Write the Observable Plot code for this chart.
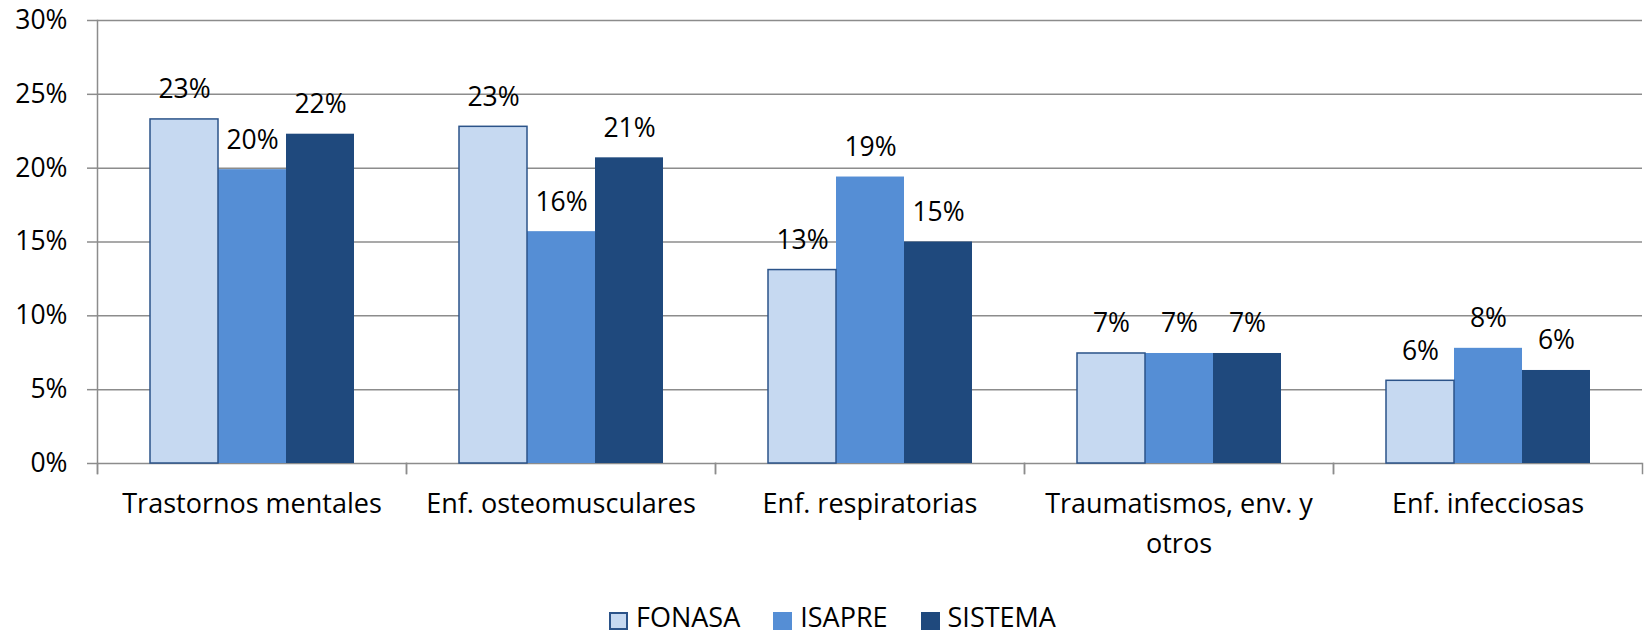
<!DOCTYPE html>
<html>
<head>
<meta charset="utf-8">
<script src="https://cdn.jsdelivr.net/npm/d3@7"></script>
<script src="https://cdn.jsdelivr.net/npm/@observablehq/plot@0.6"></script>
<style>
  html, body { margin: 0; padding: 0; background: #fff; }
  body { position: relative; width: 1645px; height: 635px; overflow: hidden; }
  #chart { width: 1645px; height: 578px; }
  #legend { position: absolute; left: 609px; top: 598px; height: 37px; line-height: 37px; display: flex; align-items: center; font-family: "Open Sans", sans-serif; font-size: 27px; color: #000; white-space: nowrap; }
  .item { display: flex; align-items: center; height: 37px; margin-right: 33px; }
  .sw { width: 19px; height: 18px; margin-right: 8px; margin-top: 8px; box-sizing: border-box; }
</style>
</head>
<body>
<div id="chart"></div>
<div id="legend"></div>
<script>
const categories = ["Trastornos mentales", "Enf. osteomusculares", "Enf. respiratorias", "Traumatismos, env. y otros", "Enf. infecciosas"];
const series = ["FONASA", "ISAPRE", "SISTEMA"];
const fonasa  = [23.3, 22.8, 13.1, 7.45, 5.6];
const isapre  = [19.9, 15.7, 19.4, 7.45, 7.8];
const sistema = [22.3, 20.7, 15.0, 7.45, 6.3];
const yTicks = [0, 5, 10, 15, 20, 25, 30];
const colors = ["#C6D9F1", "#558ED5", "#1F497D"];
const fonasaStroke = "#2B5389";
const gridColor = "#8C8C8C";

const valuesBySeries = [fonasa, isapre, sistema];
const data = [];
categories.forEach((c, i) => {
  series.forEach((s, j) => {
    data.push({category: c, series: s, value: valuesBySeries[j][i]});
  });
});

const chart = Plot.plot({
  width: 1645,
  height: 578,
  marginLeft: 97,
  marginRight: 3,
  marginTop: 20,
  marginBottom: 115,
  style: {fontFamily: "'Open Sans', sans-serif", fontSize: "26px", color: "#000", background: "#fff"},
  fx: {domain: categories, padding: 0, label: null},
  x: {domain: series, paddingInner: 0, paddingOuter: 0.741, axis: null},
  y: {domain: [0, 30], axis: null},
  color: {domain: series, range: colors},
  marks: [
    Plot.gridY(yTicks, {stroke: gridColor, strokeOpacity: 1, strokeWidth: 1.5}),
    Plot.frame({anchor: "left", insetTop: 443, insetBottom: -10, stroke: gridColor, strokeWidth: 1.5}),
    Plot.frame({anchor: "right", insetTop: 443, insetBottom: -10, stroke: gridColor, strokeWidth: 1.5}),
    Plot.frame({anchor: "left", facetAnchor: "left", insetBottom: -10, stroke: gridColor, strokeWidth: 1.5}),
    Plot.barY(data, {fx: "category", x: "series", y: "value", fill: "series"}),
    Plot.barY(data, {filter: d => d.series === "FONASA", fx: "category", x: "series", y: "value", fill: "none", stroke: fonasaStroke, strokeWidth: 1.5}),
    Plot.text(data, {fx: "category", x: "series", y: "value", text: d => Math.round(d.value) + "%", lineAnchor: "bottom", dy: -21, fontSize: 26.5, fill: "#000"}),
    Plot.axisY(yTicks, {anchor: "left", tickSize: 10, tickPadding: 20, tickFormat: d => d + "%", stroke: gridColor, strokeWidth: 1.5, strokeOpacity: 1, fontSize: 26.5, label: null}),
    Plot.axisFx({anchor: "bottom", tickSize: 0, tickPadding: 21, lineWidth: 11.6, lineHeight: 1.48, fontSize: 27, label: null})
  ]
});
document.getElementById("chart").appendChild(chart);

const legend = document.getElementById("legend");
series.forEach((s, j) => {
  const item = document.createElement("div");
  item.className = "item";
  const sw = document.createElement("div");
  sw.className = "sw";
  sw.style.background = colors[j];
  if (s === "FONASA") sw.style.border = "2px solid " + fonasaStroke;
  const label = document.createElement("span");
  label.textContent = s;
  item.appendChild(sw);
  item.appendChild(label);
  legend.appendChild(item);
});
</script>
</body>
</html>
